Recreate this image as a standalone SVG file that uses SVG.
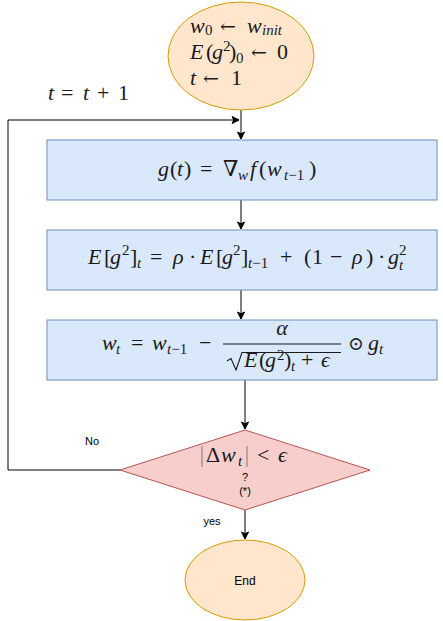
<svg xmlns="http://www.w3.org/2000/svg" width="443" height="621" viewBox="0 0 443 621">
<style>
.m{font-family:"Liberation Serif","DejaVu Serif",serif;fill:#1a1a1a;font-size:22px}
.i{font-style:italic}
.sb{font-size:15px}
.ar{font-family:"DejaVu Serif","Liberation Serif",serif;font-size:19px}
.s{font-family:"Liberation Sans",Arial,sans-serif;font-size:11px;fill:#000}
.proc{fill:#dae8fc;stroke:#6c8ebf;stroke-width:1}
.term{fill:#ffe6cc;stroke:#d79b00;stroke-width:1}
.dec{fill:#f8cecc;stroke:#b85450;stroke-width:1}
.edge{fill:none;stroke:#000;stroke-width:1}
</style>
<defs>
<marker id="arr" markerWidth="10" markerHeight="10" refX="8" refY="5" orient="auto" markerUnits="userSpaceOnUse">
<path d="M1,1.5 L8,5 L1,8.5 L2.8,5 Z" fill="#000" stroke="#000" stroke-width="1"/>
</marker>
</defs>
<g id="connectors">
<path class="edge" d="M241,110 V139" marker-end="url(#arr)"/>
<path class="edge" d="M241,200 V229" marker-end="url(#arr)"/>
<path class="edge" d="M241,290 V319" marker-end="url(#arr)"/>
<path class="edge" d="M245,380 V429" marker-end="url(#arr)"/>
<path class="edge" d="M245,510 V539" marker-end="url(#arr)"/>
<path class="edge" d="M120,470 H8 V120 H239" marker-end="url(#arr)"/>
<text class="s" x="92" y="445" text-anchor="middle">No</text>
<text class="s" x="212" y="525" text-anchor="middle">yes</text>
<text class="m" y="100"><tspan x="48" class="i">t</tspan><tspan x="61">=</tspan><tspan x="83" class="i">t</tspan><tspan x="97">+</tspan><tspan x="118">1</tspan></text>
</g>
<g id="start">
<ellipse class="term" cx="241" cy="56" rx="73" ry="54"/>
<text class="m" y="33"><tspan x="190" class="i">w</tspan><tspan x="205" y="35" class="sb">0</tspan><tspan x="220" y="33" class="ar">←</tspan><tspan x="247" class="i">w</tspan><tspan x="262" y="35" class="sb i">init</tspan></text>
<text class="m" y="59"><tspan x="190" class="i">E</tspan><tspan x="206">(</tspan><tspan x="212" class="i">g</tspan><tspan x="223" y="51" class="sb">2</tspan><tspan x="229" y="59">)</tspan><tspan x="236" y="63" class="sb">0</tspan><tspan x="251" y="59" class="ar">←</tspan><tspan x="277">0</tspan></text>
<text class="m" y="85"><tspan x="190" class="i">t</tspan><tspan x="203" class="ar">←</tspan><tspan x="231">1</tspan></text>
</g>
<g id="grad">
<rect class="proc" x="47" y="140" width="390" height="60"/>
<text class="m" y="176"><tspan x="158" class="i">g</tspan><tspan x="170">(</tspan><tspan x="177" class="i">t</tspan><tspan x="184">)</tspan><tspan x="200">=</tspan><tspan x="223">∇</tspan><tspan x="238" y="180" class="sb i">w</tspan><tspan x="250" y="176" class="i">f</tspan><tspan x="259">(</tspan><tspan x="267" class="i">w</tspan><tspan x="284" y="180" class="sb"><tspan class="i">t</tspan>−1</tspan><tspan x="309" y="176">)</tspan></text>
</g>
<g id="avg">
<rect class="proc" x="47" y="230" width="390" height="60"/>
<text class="m" y="264"><tspan x="88" class="i">E</tspan><tspan x="104">[</tspan><tspan x="110" class="i">g</tspan><tspan x="122" y="255" class="sb">2</tspan><tspan x="130" y="264">]</tspan><tspan x="137" y="268" class="sb i">t</tspan><tspan x="150" y="264">=</tspan><tspan x="173" class="i">ρ</tspan><tspan x="189">·</tspan><tspan x="200" class="i">E</tspan><tspan x="216">[</tspan><tspan x="222" class="i">g</tspan><tspan x="233" y="255" class="sb">2</tspan><tspan x="241" y="264">]</tspan><tspan x="248" y="268" class="sb"><tspan class="i">t</tspan>−1</tspan><tspan x="280" y="264">+</tspan><tspan x="304">(</tspan><tspan x="312">1</tspan><tspan x="330">−</tspan><tspan x="352" class="i">ρ</tspan><tspan x="366">)</tspan><tspan x="378">·</tspan><tspan x="388" class="i">g</tspan></text>
<text class="m sb" x="399" y="255">2</text>
<text class="m sb i" x="399" y="270">t</text>
</g>
<g id="update">
<rect class="proc" x="47" y="320" width="390" height="60"/>
<text class="m" y="350"><tspan x="102" class="i">w</tspan><tspan x="116" y="354" class="sb i">t</tspan><tspan x="131" y="350">=</tspan><tspan x="152" class="i">w</tspan><tspan x="167" y="354" class="sb"><tspan class="i">t</tspan>−1</tspan><tspan x="199" y="350">−</tspan></text>
<text class="m i" x="282" y="335" text-anchor="middle">α</text>
<line x1="223" y1="344" x2="341" y2="344" stroke="#1a1a1a" stroke-width="1.2"/>
<path d="M227,361 L231,358.5 L236,370 L242,352.5 H341" fill="none" stroke="#1a1a1a" stroke-width="1.1"/>
<text class="m" y="367"><tspan x="244" class="i">E</tspan><tspan x="259">(</tspan><tspan x="265" class="i">g</tspan><tspan x="277" y="360" class="sb">2</tspan><tspan x="284" y="367">)</tspan><tspan x="291" y="371" class="sb i">t</tspan><tspan x="301" y="367">+</tspan><tspan x="321" class="i">ϵ</tspan></text>
<text class="m" x="348" y="350" style="font-size:19px">⊙</text>
<text class="m" y="350"><tspan x="368" class="i">g</tspan><tspan x="379" y="354" class="sb i">t</tspan></text>
</g>
<g id="check">
<polygon class="dec" points="245,430 370,470 245,510 120,470"/>
<line x1="202" y1="446" x2="202" y2="467" stroke="#888" stroke-width="1.2"/>
<line x1="247" y1="446" x2="247" y2="467" stroke="#888" stroke-width="1.2"/>
<text class="m" y="462"><tspan x="206">Δ</tspan><tspan x="221" class="i">w</tspan><tspan x="238" y="466" class="sb i">t</tspan><tspan x="257" y="462">&lt;</tspan><tspan x="278" class="i">ϵ</tspan></text>
<text class="s" x="245" y="481" text-anchor="middle">?</text>
<text class="s" x="245" y="495" text-anchor="middle">(*)</text>
</g>
<g id="end">
<ellipse class="term" cx="245" cy="580" rx="60" ry="40"/>
<text class="s" x="245" y="585" text-anchor="middle" style="font-size:12px">End</text>
</g>
</svg>
